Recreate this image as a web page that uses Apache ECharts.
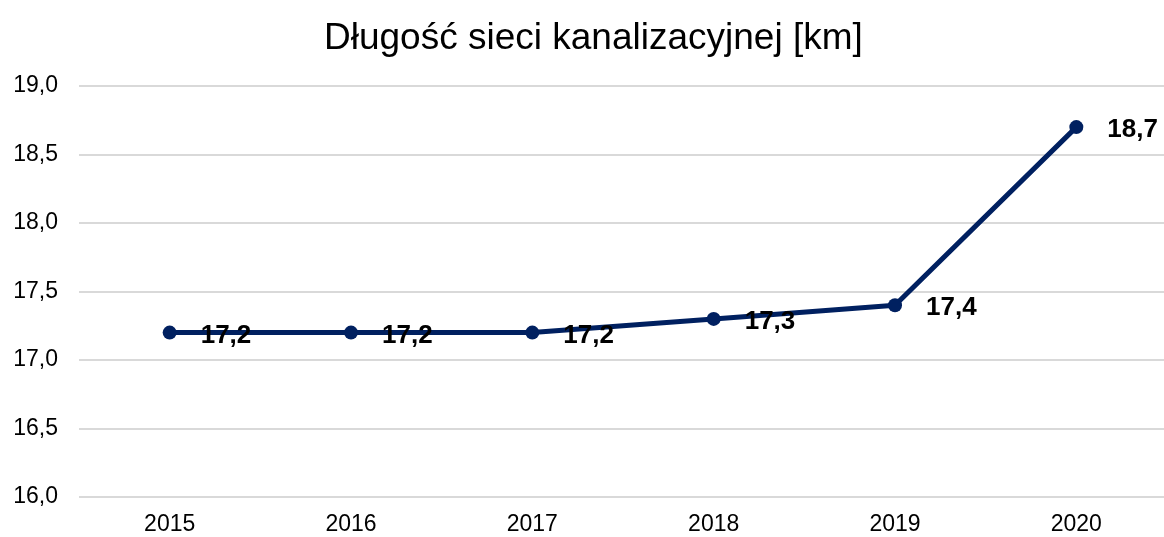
<!DOCTYPE html>
<html>
<head>
<meta charset="utf-8">
<script src="https://cdn.jsdelivr.net/npm/echarts@6/dist/echarts.min.js"></script>
<style>
  html, body { margin: 0; padding: 0; background: #fff; overflow: hidden; }
  #chart { width: 1172px; height: 537px; }
</style>
</head>
<body>
<div id="chart"></div>
<script>
const years = ['2015', '2016', '2017', '2018', '2019', '2020']
const lengthKm = [17.2, 17.2, 17.2, 17.3, 17.4, 18.7]
const titleText = 'Długość sieci kanalizacyjnej [km]'

const fmt = v => v.toFixed(1).replace('.', ',')

const option = {
    animation: false,
    title: {
        text: titleText,
        left: 319,
        top: 15,
        textStyle: {
            fontFamily: 'Liberation Sans',
            fontSize: 37,
            fontWeight: 'normal',
            color: '#000'
        }
    },
    grid: {
        left: 79,
        width: 1088,
        top: 86,
        bottom: 40
    },
    xAxis: {
        type: 'category',
        data: years,
        boundaryGap: true,
        axisLine: { show: false },
        axisTick: { show: false },
        axisLabel: {
            fontFamily: 'Liberation Sans',
            fontSize: 23,
            color: '#000',
            margin: 16
        }
    },
    yAxis: {
        type: 'value',
        min: 16,
        max: 19,
        interval: 0.5,
        axisLine: { show: false },
        axisTick: { show: false },
        splitLine: { lineStyle: { color: '#d9d9d9', width: 2 } },
        axisLabel: {
            fontFamily: 'Liberation Sans',
            fontSize: 23,
            color: '#000',
            margin: 21,
            formatter: fmt
        }
    },
    series: [
        {
            type: 'line',
            data: lengthKm,
            color: '#002060',
            lineStyle: { width: 5 },
            symbol: 'circle',
            symbolSize: 14,
            label: {
                show: true,
                position: 'right',
                distance: 24,
                offset: [0, 3],
                formatter: p => fmt(p.value),
                fontFamily: 'Liberation Sans',
                fontSize: 26,
                fontWeight: 'bold',
                color: '#000'
            }
        }
    ]
}

const chart = echarts.init(document.getElementById('chart'))
chart.setOption(option)
</script>
</body>
</html>
